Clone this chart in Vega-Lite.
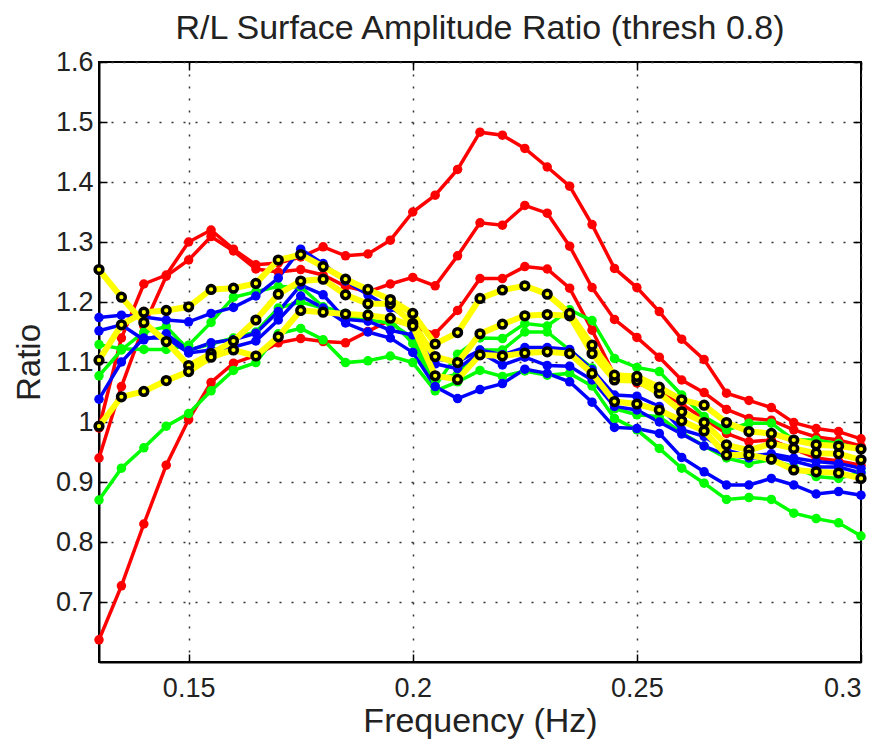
{
"$schema": "https://vega.github.io/schema/vega-lite/v6.json",
"width": 762, "height": 600,
"autosize": {"type": "none"},
"padding": {"left": 99, "top": 62, "right": 25, "bottom": 78},
"background": "white",
"config": {
  "font": "Liberation Sans",
  "view": {"stroke": "black", "strokeWidth": 2},
  "axis": {"domainColor": "black", "domainWidth": 2, "tickColor": "black", "tickWidth": 1.5, "tickSize": -8,
           "labelFont": "Liberation Sans", "labelFontSize": 27, "labelColor": "#222",
           "titleFont": "Liberation Sans", "titleFontSize": 33, "titleFontWeight": "normal", "titleColor": "#222",
           "gridColor": "#333", "gridDash": [2, 10], "gridWidth": 1.5}
},
"title": {"text": "R/L Surface Amplitude Ratio (thresh 0.8)", "fontSize": 34, "fontWeight": "normal", "color": "#222", "font": "Liberation Sans", "offset": 2, "anchor": "middle"},
"data": {"values": [
{"s":"R1","f":0.13,"v":0.99},{"s":"R1","f":0.135,"v":1.14},{"s":"R1","f":0.14,"v":1.23},{"s":"R1","f":0.145,"v":1.245},{"s":"R1","f":0.15,"v":1.3},{"s":"R1","f":0.155,"v":1.32},{"s":"R1","f":0.16,"v":1.288},{"s":"R1","f":0.165,"v":1.262},{"s":"R1","f":0.17,"v":1.265},{"s":"R1","f":0.175,"v":1.275},{"s":"R1","f":0.18,"v":1.292},{"s":"R1","f":0.185,"v":1.277},{"s":"R1","f":0.19,"v":1.28},{"s":"R1","f":0.195,"v":1.303},{"s":"R1","f":0.2,"v":1.35},{"s":"R1","f":0.205,"v":1.378},{"s":"R1","f":0.21,"v":1.421},{"s":"R1","f":0.215,"v":1.483},{"s":"R1","f":0.22,"v":1.478},{"s":"R1","f":0.225,"v":1.456},{"s":"R1","f":0.23,"v":1.425},{"s":"R1","f":0.235,"v":1.393},{"s":"R1","f":0.24,"v":1.329},{"s":"R1","f":0.245,"v":1.256},{"s":"R1","f":0.25,"v":1.224},{"s":"R1","f":0.255,"v":1.184},{"s":"R1","f":0.26,"v":1.138},{"s":"R1","f":0.265,"v":1.104},{"s":"R1","f":0.27,"v":1.048},{"s":"R1","f":0.275,"v":1.036},{"s":"R1","f":0.28,"v":1.024},{"s":"R1","f":0.285,"v":0.999},{"s":"R1","f":0.29,"v":0.989},{"s":"R1","f":0.295,"v":0.984},{"s":"R1","f":0.3,"v":0.972},
{"s":"R2","f":0.13,"v":0.94},{"s":"R2","f":0.135,"v":1.059},{"s":"R2","f":0.14,"v":1.16},{"s":"R2","f":0.145,"v":1.243},{"s":"R2","f":0.15,"v":1.27},{"s":"R2","f":0.155,"v":1.309},{"s":"R2","f":0.16,"v":1.285},{"s":"R2","f":0.165,"v":1.255},{"s":"R2","f":0.17,"v":1.25},{"s":"R2","f":0.175,"v":1.254},{"s":"R2","f":0.18,"v":1.245},{"s":"R2","f":0.185,"v":1.226},{"s":"R2","f":0.19,"v":1.217},{"s":"R2","f":0.195,"v":1.23},{"s":"R2","f":0.2,"v":1.241},{"s":"R2","f":0.205,"v":1.227},{"s":"R2","f":0.21,"v":1.277},{"s":"R2","f":0.215,"v":1.332},{"s":"R2","f":0.22,"v":1.328},{"s":"R2","f":0.225,"v":1.361},{"s":"R2","f":0.23,"v":1.348},{"s":"R2","f":0.235,"v":1.293},{"s":"R2","f":0.24,"v":1.224},{"s":"R2","f":0.245,"v":1.171},{"s":"R2","f":0.25,"v":1.141},{"s":"R2","f":0.255,"v":1.108},{"s":"R2","f":0.26,"v":1.07},{"s":"R2","f":0.265,"v":1.049},{"s":"R2","f":0.27,"v":1.021},{"s":"R2","f":0.275,"v":1.006},{"s":"R2","f":0.28,"v":1.003},{"s":"R2","f":0.285,"v":0.987},{"s":"R2","f":0.29,"v":0.975},{"s":"R2","f":0.295,"v":0.97},{"s":"R2","f":0.3,"v":0.96},
{"s":"R3","f":0.13,"v":0.637},{"s":"R3","f":0.135,"v":0.727},{"s":"R3","f":0.14,"v":0.83},{"s":"R3","f":0.145,"v":0.928},{"s":"R3","f":0.15,"v":1.004},{"s":"R3","f":0.155,"v":1.066},{"s":"R3","f":0.16,"v":1.098},{"s":"R3","f":0.165,"v":1.111},{"s":"R3","f":0.17,"v":1.132},{"s":"R3","f":0.175,"v":1.139},{"s":"R3","f":0.18,"v":1.134},{"s":"R3","f":0.185,"v":1.132},{"s":"R3","f":0.19,"v":1.151},{"s":"R3","f":0.195,"v":1.17},{"s":"R3","f":0.2,"v":1.16},{"s":"R3","f":0.205,"v":1.147},{"s":"R3","f":0.21,"v":1.186},{"s":"R3","f":0.215,"v":1.239},{"s":"R3","f":0.22,"v":1.239},{"s":"R3","f":0.225,"v":1.259},{"s":"R3","f":0.23,"v":1.255},{"s":"R3","f":0.235,"v":1.223},{"s":"R3","f":0.24,"v":1.153},{"s":"R3","f":0.245,"v":1.078},{"s":"R3","f":0.25,"v":1.065},{"s":"R3","f":0.255,"v":1.05},{"s":"R3","f":0.26,"v":1.03},{"s":"R3","f":0.265,"v":1.005},{"s":"R3","f":0.27,"v":0.981},{"s":"R3","f":0.275,"v":0.967},{"s":"R3","f":0.28,"v":0.97},{"s":"R3","f":0.285,"v":0.955},{"s":"R3","f":0.29,"v":0.94},{"s":"R3","f":0.295,"v":0.935},{"s":"R3","f":0.3,"v":0.928},
{"s":"G1","f":0.13,"v":0.87},{"s":"G1","f":0.135,"v":0.923},{"s":"G1","f":0.14,"v":0.957},{"s":"G1","f":0.145,"v":0.993},{"s":"G1","f":0.15,"v":1.014},{"s":"G1","f":0.155,"v":1.052},{"s":"G1","f":0.16,"v":1.086},{"s":"G1","f":0.165,"v":1.099},{"s":"G1","f":0.17,"v":1.147},{"s":"G1","f":0.175,"v":1.156},{"s":"G1","f":0.18,"v":1.137},{"s":"G1","f":0.185,"v":1.099},{"s":"G1","f":0.19,"v":1.102},{"s":"G1","f":0.195,"v":1.11},{"s":"G1","f":0.2,"v":1.099},{"s":"G1","f":0.205,"v":1.052},{"s":"G1","f":0.21,"v":1.067},{"s":"G1","f":0.215,"v":1.086},{"s":"G1","f":0.22,"v":1.076},{"s":"G1","f":0.225,"v":1.085},{"s":"G1","f":0.23,"v":1.078},{"s":"G1","f":0.235,"v":1.081},{"s":"G1","f":0.24,"v":1.06},{"s":"G1","f":0.245,"v":1.006},{"s":"G1","f":0.25,"v":0.987},{"s":"G1","f":0.255,"v":0.956},{"s":"G1","f":0.26,"v":0.923},{"s":"G1","f":0.265,"v":0.898},{"s":"G1","f":0.27,"v":0.871},{"s":"G1","f":0.275,"v":0.874},{"s":"G1","f":0.28,"v":0.871},{"s":"G1","f":0.285,"v":0.848},{"s":"G1","f":0.29,"v":0.839},{"s":"G1","f":0.295,"v":0.832},{"s":"G1","f":0.3,"v":0.81},
{"s":"G2","f":0.13,"v":1.129},{"s":"G2","f":0.135,"v":1.122},{"s":"G2","f":0.14,"v":1.121},{"s":"G2","f":0.145,"v":1.121},{"s":"G2","f":0.15,"v":1.128},{"s":"G2","f":0.155,"v":1.166},{"s":"G2","f":0.16,"v":1.208},{"s":"G2","f":0.165,"v":1.217},{"s":"G2","f":0.17,"v":1.226},{"s":"G2","f":0.175,"v":1.225},{"s":"G2","f":0.18,"v":1.192},{"s":"G2","f":0.185,"v":1.181},{"s":"G2","f":0.19,"v":1.18},{"s":"G2","f":0.195,"v":1.17},{"s":"G2","f":0.2,"v":1.131},{"s":"G2","f":0.205,"v":1.06},{"s":"G2","f":0.21,"v":1.113},{"s":"G2","f":0.215,"v":1.14},{"s":"G2","f":0.22,"v":1.139},{"s":"G2","f":0.225,"v":1.164},{"s":"G2","f":0.23,"v":1.16},{"s":"G2","f":0.235,"v":1.187},{"s":"G2","f":0.24,"v":1.169},{"s":"G2","f":0.245,"v":1.106},{"s":"G2","f":0.25,"v":1.091},{"s":"G2","f":0.255,"v":1.084},{"s":"G2","f":0.26,"v":1.045},{"s":"G2","f":0.265,"v":1.009},{"s":"G2","f":0.27,"v":0.987},{"s":"G2","f":0.275,"v":0.998},{"s":"G2","f":0.28,"v":0.998},{"s":"G2","f":0.285,"v":0.97},{"s":"G2","f":0.29,"v":0.97},{"s":"G2","f":0.295,"v":0.964},{"s":"G2","f":0.3,"v":0.955},
{"s":"G3","f":0.13,"v":1.077},{"s":"G3","f":0.135,"v":1.12},{"s":"G3","f":0.14,"v":1.15},{"s":"G3","f":0.145,"v":1.159},{"s":"G3","f":0.15,"v":1.12},{"s":"G3","f":0.155,"v":1.13},{"s":"G3","f":0.16,"v":1.14},{"s":"G3","f":0.165,"v":1.15},{"s":"G3","f":0.17,"v":1.19},{"s":"G3","f":0.175,"v":1.2},{"s":"G3","f":0.18,"v":1.19},{"s":"G3","f":0.185,"v":1.175},{"s":"G3","f":0.19,"v":1.17},{"s":"G3","f":0.195,"v":1.165},{"s":"G3","f":0.2,"v":1.14},{"s":"G3","f":0.205,"v":1.07},{"s":"G3","f":0.21,"v":1.08},{"s":"G3","f":0.215,"v":1.12},{"s":"G3","f":0.22,"v":1.12},{"s":"G3","f":0.225,"v":1.15},{"s":"G3","f":0.23,"v":1.15},{"s":"G3","f":0.235,"v":1.12},{"s":"G3","f":0.24,"v":1.09},{"s":"G3","f":0.245,"v":1.022},{"s":"G3","f":0.25,"v":1.012},{"s":"G3","f":0.255,"v":1.009},{"s":"G3","f":0.26,"v":0.982},{"s":"G3","f":0.265,"v":0.96},{"s":"G3","f":0.27,"v":0.94},{"s":"G3","f":0.275,"v":0.931},{"s":"G3","f":0.28,"v":0.937},{"s":"G3","f":0.285,"v":0.925},{"s":"G3","f":0.29,"v":0.909},{"s":"G3","f":0.295,"v":0.906},{"s":"G3","f":0.3,"v":0.917},
{"s":"B1","f":0.13,"v":1.174},{"s":"B1","f":0.135,"v":1.178},{"s":"B1","f":0.14,"v":1.175},{"s":"B1","f":0.145,"v":1.17},{"s":"B1","f":0.15,"v":1.167},{"s":"B1","f":0.155,"v":1.181},{"s":"B1","f":0.16,"v":1.191},{"s":"B1","f":0.165,"v":1.21},{"s":"B1","f":0.17,"v":1.24},{"s":"B1","f":0.175,"v":1.288},{"s":"B1","f":0.18,"v":1.264},{"s":"B1","f":0.185,"v":1.235},{"s":"B1","f":0.19,"v":1.212},{"s":"B1","f":0.195,"v":1.19},{"s":"B1","f":0.2,"v":1.17},{"s":"B1","f":0.205,"v":1.105},{"s":"B1","f":0.21,"v":1.1},{"s":"B1","f":0.215,"v":1.12},{"s":"B1","f":0.22,"v":1.112},{"s":"B1","f":0.225,"v":1.124},{"s":"B1","f":0.23,"v":1.124},{"s":"B1","f":0.235,"v":1.121},{"s":"B1","f":0.24,"v":1.087},{"s":"B1","f":0.245,"v":1.045},{"s":"B1","f":0.25,"v":1.043},{"s":"B1","f":0.255,"v":1.026},{"s":"B1","f":0.26,"v":0.987},{"s":"B1","f":0.265,"v":0.976},{"s":"B1","f":0.27,"v":0.953},{"s":"B1","f":0.275,"v":0.943},{"s":"B1","f":0.28,"v":0.947},{"s":"B1","f":0.285,"v":0.94},{"s":"B1","f":0.29,"v":0.934},{"s":"B1","f":0.295,"v":0.931},{"s":"B1","f":0.3,"v":0.923},
{"s":"B2","f":0.13,"v":1.152},{"s":"B2","f":0.135,"v":1.162},{"s":"B2","f":0.14,"v":1.137},{"s":"B2","f":0.145,"v":1.147},{"s":"B2","f":0.15,"v":1.119},{"s":"B2","f":0.155,"v":1.132},{"s":"B2","f":0.16,"v":1.137},{"s":"B2","f":0.165,"v":1.148},{"s":"B2","f":0.17,"v":1.184},{"s":"B2","f":0.175,"v":1.228},{"s":"B2","f":0.18,"v":1.212},{"s":"B2","f":0.185,"v":1.171},{"s":"B2","f":0.19,"v":1.168},{"s":"B2","f":0.195,"v":1.153},{"s":"B2","f":0.2,"v":1.145},{"s":"B2","f":0.205,"v":1.097},{"s":"B2","f":0.21,"v":1.089},{"s":"B2","f":0.215,"v":1.116},{"s":"B2","f":0.22,"v":1.095},{"s":"B2","f":0.225,"v":1.108},{"s":"B2","f":0.23,"v":1.094},{"s":"B2","f":0.235,"v":1.093},{"s":"B2","f":0.24,"v":1.07},{"s":"B2","f":0.245,"v":1.026},{"s":"B2","f":0.25,"v":1.02},{"s":"B2","f":0.255,"v":1.0},{"s":"B2","f":0.26,"v":0.98},{"s":"B2","f":0.265,"v":0.96},{"s":"B2","f":0.27,"v":0.945},{"s":"B2","f":0.275,"v":0.94},{"s":"B2","f":0.28,"v":0.942},{"s":"B2","f":0.285,"v":0.935},{"s":"B2","f":0.29,"v":0.925},{"s":"B2","f":0.295,"v":0.925},{"s":"B2","f":0.3,"v":0.915},
{"s":"B3","f":0.13,"v":1.038},{"s":"B3","f":0.135,"v":1.1},{"s":"B3","f":0.14,"v":1.14},{"s":"B3","f":0.145,"v":1.14},{"s":"B3","f":0.15,"v":1.115},{"s":"B3","f":0.155,"v":1.12},{"s":"B3","f":0.16,"v":1.125},{"s":"B3","f":0.165,"v":1.135},{"s":"B3","f":0.17,"v":1.17},{"s":"B3","f":0.175,"v":1.21},{"s":"B3","f":0.18,"v":1.19},{"s":"B3","f":0.185,"v":1.165},{"s":"B3","f":0.19,"v":1.15},{"s":"B3","f":0.195,"v":1.14},{"s":"B3","f":0.2,"v":1.116},{"s":"B3","f":0.205,"v":1.059},{"s":"B3","f":0.21,"v":1.039},{"s":"B3","f":0.215,"v":1.054},{"s":"B3","f":0.22,"v":1.064},{"s":"B3","f":0.225,"v":1.088},{"s":"B3","f":0.23,"v":1.081},{"s":"B3","f":0.235,"v":1.067},{"s":"B3","f":0.24,"v":1.033},{"s":"B3","f":0.245,"v":0.991},{"s":"B3","f":0.25,"v":0.989},{"s":"B3","f":0.255,"v":0.981},{"s":"B3","f":0.26,"v":0.941},{"s":"B3","f":0.265,"v":0.917},{"s":"B3","f":0.27,"v":0.895},{"s":"B3","f":0.275,"v":0.895},{"s":"B3","f":0.28,"v":0.906},{"s":"B3","f":0.285,"v":0.895},{"s":"B3","f":0.29,"v":0.88},{"s":"B3","f":0.295,"v":0.884},{"s":"B3","f":0.3,"v":0.878},
{"s":"Y1","f":0.13,"v":1.254},{"s":"Y1","f":0.135,"v":1.208},{"s":"Y1","f":0.14,"v":1.166},{"s":"Y1","f":0.145,"v":1.134},{"s":"Y1","f":0.15,"v":1.094},{"s":"Y1","f":0.155,"v":1.114},{"s":"Y1","f":0.16,"v":1.135},{"s":"Y1","f":0.165,"v":1.17},{"s":"Y1","f":0.17,"v":1.213},{"s":"Y1","f":0.175,"v":1.235},{"s":"Y1","f":0.18,"v":1.238},{"s":"Y1","f":0.185,"v":1.212},{"s":"Y1","f":0.19,"v":1.197},{"s":"Y1","f":0.195,"v":1.197},{"s":"Y1","f":0.2,"v":1.164},{"s":"Y1","f":0.205,"v":1.109},{"s":"Y1","f":0.21,"v":1.099},{"s":"Y1","f":0.215,"v":1.147},{"s":"Y1","f":0.22,"v":1.163},{"s":"Y1","f":0.225,"v":1.177},{"s":"Y1","f":0.23,"v":1.179},{"s":"Y1","f":0.235,"v":1.177},{"s":"Y1","f":0.24,"v":1.114},{"s":"Y1","f":0.245,"v":1.07},{"s":"Y1","f":0.25,"v":1.069},{"s":"Y1","f":0.255,"v":1.048},{"s":"Y1","f":0.26,"v":1.017},{"s":"Y1","f":0.265,"v":0.999},{"s":"Y1","f":0.27,"v":0.962},{"s":"Y1","f":0.275,"v":0.953},{"s":"Y1","f":0.28,"v":0.964},{"s":"Y1","f":0.285,"v":0.956},{"s":"Y1","f":0.29,"v":0.948},{"s":"Y1","f":0.295,"v":0.947},{"s":"Y1","f":0.3,"v":0.937},
{"s":"Y2","f":0.13,"v":1.103},{"s":"Y2","f":0.135,"v":1.162},{"s":"Y2","f":0.14,"v":1.183},{"s":"Y2","f":0.145,"v":1.186},{"s":"Y2","f":0.15,"v":1.192},{"s":"Y2","f":0.155,"v":1.221},{"s":"Y2","f":0.16,"v":1.223},{"s":"Y2","f":0.165,"v":1.231},{"s":"Y2","f":0.17,"v":1.27},{"s":"Y2","f":0.175,"v":1.279},{"s":"Y2","f":0.18,"v":1.259},{"s":"Y2","f":0.185,"v":1.238},{"s":"Y2","f":0.19,"v":1.221},{"s":"Y2","f":0.195,"v":1.204},{"s":"Y2","f":0.2,"v":1.181},{"s":"Y2","f":0.205,"v":1.13},{"s":"Y2","f":0.21,"v":1.149},{"s":"Y2","f":0.215,"v":1.206},{"s":"Y2","f":0.22,"v":1.22},{"s":"Y2","f":0.225,"v":1.227},{"s":"Y2","f":0.23,"v":1.213},{"s":"Y2","f":0.235,"v":1.181},{"s":"Y2","f":0.24,"v":1.128},{"s":"Y2","f":0.245,"v":1.078},{"s":"Y2","f":0.25,"v":1.076},{"s":"Y2","f":0.255,"v":1.058},{"s":"Y2","f":0.26,"v":1.037},{"s":"Y2","f":0.265,"v":1.028},{"s":"Y2","f":0.27,"v":0.999},{"s":"Y2","f":0.275,"v":0.984},{"s":"Y2","f":0.28,"v":0.981},{"s":"Y2","f":0.285,"v":0.97},{"s":"Y2","f":0.29,"v":0.962},{"s":"Y2","f":0.295,"v":0.96},{"s":"Y2","f":0.3,"v":0.955},
{"s":"Y3","f":0.13,"v":0.993},{"s":"Y3","f":0.135,"v":1.042},{"s":"Y3","f":0.14,"v":1.051},{"s":"Y3","f":0.145,"v":1.069},{"s":"Y3","f":0.15,"v":1.084},{"s":"Y3","f":0.155,"v":1.108},{"s":"Y3","f":0.16,"v":1.12},{"s":"Y3","f":0.165,"v":1.11},{"s":"Y3","f":0.17,"v":1.142},{"s":"Y3","f":0.175,"v":1.186},{"s":"Y3","f":0.18,"v":1.183},{"s":"Y3","f":0.185,"v":1.18},{"s":"Y3","f":0.19,"v":1.178},{"s":"Y3","f":0.195,"v":1.173},{"s":"Y3","f":0.2,"v":1.16},{"s":"Y3","f":0.205,"v":1.077},{"s":"Y3","f":0.21,"v":1.071},{"s":"Y3","f":0.215,"v":1.112},{"s":"Y3","f":0.22,"v":1.11},{"s":"Y3","f":0.225,"v":1.115},{"s":"Y3","f":0.23,"v":1.117},{"s":"Y3","f":0.235,"v":1.114},{"s":"Y3","f":0.24,"v":1.081},{"s":"Y3","f":0.245,"v":1.034},{"s":"Y3","f":0.25,"v":1.03},{"s":"Y3","f":0.255,"v":1.02},{"s":"Y3","f":0.26,"v":1.002},{"s":"Y3","f":0.265,"v":0.985},{"s":"Y3","f":0.27,"v":0.945},{"s":"Y3","f":0.275,"v":0.945},{"s":"Y3","f":0.28,"v":0.938},{"s":"Y3","f":0.285,"v":0.92},{"s":"Y3","f":0.29,"v":0.917},{"s":"Y3","f":0.295,"v":0.915},{"s":"Y3","f":0.3,"v":0.906}
]},
"resolve": {"axis": {"x": "independent", "y": "independent"}},
"layer": [
  {
    "mark": {"type": "line", "opacity": 0},
    "encoding": {
      "x": {"field": "f", "type": "quantitative", "scale": {"domain": [0.13, 0.3], "nice": false, "zero": false},
            "axis": {"orient": "top", "values": [0.15, 0.2, 0.25, 0.3], "labels": false, "title": null, "grid": false, "domain": false}},
      "y": {"field": "v", "type": "quantitative", "scale": {"domain": [0.6, 1.6], "nice": false, "zero": false},
            "axis": {"orient": "right", "values": [0.7, 0.8, 0.9, 1, 1.1, 1.2, 1.3, 1.4, 1.5, 1.6], "labels": false, "title": null, "grid": false, "domain": false}},
      "detail": {"field": "s"}
    }
  },
  {
    "transform": [{"filter": "indexof(['Y1','Y2','Y3'], datum.s) < 0"}],
    "mark": {"type": "line", "strokeWidth": 3.5},
    "encoding": {
      "x": {"field": "f", "type": "quantitative", "title": "Frequency (Hz)",
            "axis": {"orient": "bottom", "values": [0.15, 0.2, 0.25, 0.3], "format": "~g", "grid": true, "labelPadding": 21, "titlePadding": 3, "titleFontSize": 34}},
      "y": {"field": "v", "type": "quantitative", "title": "Ratio",
            "axis": {"orient": "left", "values": [0.7, 0.8, 0.9, 1, 1.1, 1.2, 1.3, 1.4, 1.5, 1.6], "format": "~g", "grid": true, "labelPadding": 14, "titlePadding": 9}},
      "color": {"field": "s", "type": "nominal", "legend": null,
                "scale": {"domain": ["R1","R2","R3","G1","G2","G3","B1","B2","B3"], "range": ["#FF0000","#FF0000","#FF0000","#00FF00","#00FF00","#00FF00","#0000FF","#0000FF","#0000FF"]}}
    }
  },
  {
    "transform": [{"filter": "indexof(['Y1','Y2','Y3'], datum.s) < 0"}],
    "mark": {"type": "circle", "size": 90, "opacity": 1},
    "encoding": {
      "x": {"field": "f", "type": "quantitative", "axis": null},
      "y": {"field": "v", "type": "quantitative", "axis": null},
      "color": {"field": "s", "type": "nominal", "legend": null}
    }
  },
  {
    "transform": [{"filter": "indexof(['Y1','Y2','Y3'], datum.s) >= 0"}],
    "mark": {"type": "line", "strokeWidth": 6, "color": "#FFFF00"},
    "encoding": {
      "x": {"field": "f", "type": "quantitative", "axis": null},
      "y": {"field": "v", "type": "quantitative", "axis": null},
      "detail": {"field": "s"}
    }
  },
  {
    "transform": [{"filter": "indexof(['Y1','Y2','Y3'], datum.s) >= 0"}],
    "mark": {"type": "point", "filled": true, "fill": "#FFFF00", "stroke": "black", "strokeWidth": 3.5, "size": 60, "opacity": 1},
    "encoding": {
      "x": {"field": "f", "type": "quantitative", "axis": null},
      "y": {"field": "v", "type": "quantitative", "axis": null}
    }
  }
]
}
